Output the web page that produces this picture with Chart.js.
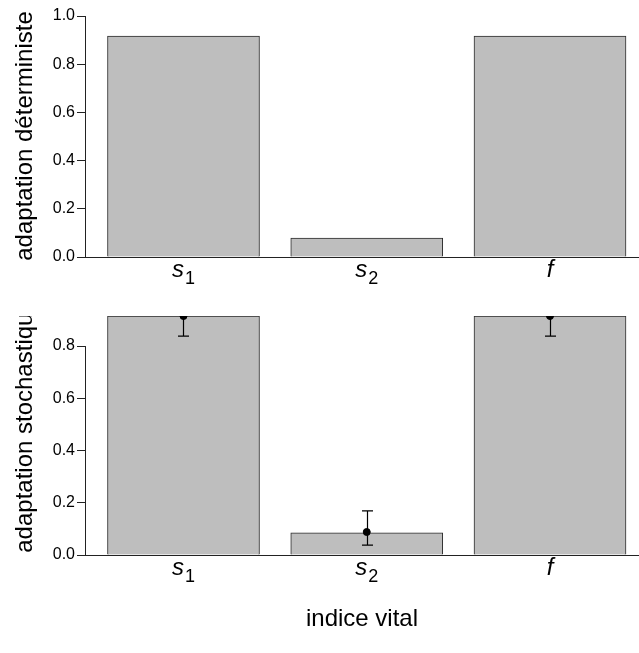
<!DOCTYPE html>
<html>
<head>
<meta charset="utf-8">
<script src="https://cdn.jsdelivr.net/npm/chart.js@4"></script>
<style>
  html, body { margin: 0; padding: 0; background: #fff; overflow: hidden; }
  body { width: 639px; height: 653px; position: relative; }
  .panel { position: absolute; left: 0; width: 639px; }
  #top { top: 0; height: 300px; }
  #bottom { top: 316px; height: 337px; }
</style>
</head>
<body>
<div class="panel" id="top"><canvas id="detChart"></canvas></div>
<div class="panel" id="bottom"><canvas id="stoChart"></canvas></div>
<script>
// vital rates: letter + subscript
const categories = ["s1", "s2", "f"];

// deterministic adaptation (top)
const detValues = [0.917, 0.079, 0.917];

// stochastic adaptation (bottom): bars, mean points, error bars
const stoValues = [0.915, 0.085, 0.915];
const stoMeans = [0.915, 0.088, 0.915];
const stoLow = [0.838, 0.038, 0.838];
const stoHigh = [0.99, 0.169, 0.99];

const detTicks = [0, 0.2, 0.4, 0.6, 0.8, 1.0];
const stoTicks = [0, 0.2, 0.4, 0.6, 0.8];

const FONT = "'Liberation Sans', Arial, sans-serif";

// R-style y axis line: only from 0 to last tick, plus titles and x labels
const decorPlugin = {
    id: "decor",
    afterDraw(chart, args, opts) {
        const ctx = chart.ctx;
        const y = chart.scales.y;
        const x = chart.scales.x;
        const area = chart.chartArea;
        const ticks = y.ticks;

        ctx.save();
        ctx.strokeStyle = "#222";
        ctx.lineWidth = 1;
        ctx.beginPath();
        ctx.moveTo(area.left + 0.5, y.getPixelForValue(ticks[0].value));
        ctx.lineTo(area.left + 0.5, y.getPixelForValue(ticks[ticks.length - 1].value));
        ctx.stroke();

        // x axis line
        ctx.beginPath();
        ctx.moveTo(area.left, area.bottom + 0.5);
        ctx.lineTo(area.right, area.bottom + 0.5);
        ctx.stroke();

        // category labels, e.g. s with subscript 1
        ctx.fillStyle = "#000";
        ctx.textBaseline = "alphabetic";
        categories.forEach((c, i) => {
            const letter = c[0];
            const sub = c.slice(1);
            const cx = x.getPixelForValue(i);
            ctx.font = "italic 24px " + FONT;
            const w1 = ctx.measureText(letter).width;
            ctx.font = "18px " + FONT;
            const w2 = sub ? ctx.measureText(sub).width + 1 : 0;
            const start = cx - (w1 + w2) / 2;
            const base = area.bottom + 20;
            ctx.font = "italic 24px " + FONT;
            ctx.textAlign = "left";
            ctx.fillText(letter, start, base);
            if (sub) {
                ctx.font = "18px " + FONT;
                ctx.fillText(sub, start + w1 + 1, base + 7);
            }
        });

        // y axis title
        ctx.save();
        ctx.translate(32, opts.titleY);
        ctx.rotate(-Math.PI / 2);
        ctx.font = "24px " + FONT;
        ctx.textAlign = "center";
        ctx.fillText(opts.title, 0, 0);
        ctx.restore();

        if (opts.xTitle) {
            ctx.font = "24px " + FONT;
            ctx.textAlign = "center";
            ctx.fillText(opts.xTitle, (area.left + area.right) / 2, area.bottom + 71);
        }
        ctx.restore();
    }
};

// error bars for the stochastic panel, drawn between bars and points
const errorBarPlugin = {
    id: "errorBars",
    afterDatasetDraw(chart, args) {
        if (args.index !== 0 || !chart.options.plugins.errorBars.low) return;
        const opts = chart.options.plugins.errorBars;
        const ctx = chart.ctx;
        const area = chart.chartArea;
        ctx.save();
        ctx.beginPath();
        ctx.rect(area.left, area.top, area.right - area.left, area.bottom - area.top);
        ctx.clip();
        ctx.strokeStyle = "#000";
        ctx.lineWidth = 1.2;
        opts.low.forEach((lo, i) => {
            const px = Math.round(chart.scales.x.getPixelForValue(i)) + 0.5;
            const yl = chart.scales.y.getPixelForValue(lo);
            const yh = chart.scales.y.getPixelForValue(opts.high[i]);
            ctx.beginPath();
            ctx.moveTo(px, yl);
            ctx.lineTo(px, yh);
            ctx.moveTo(px - 5.5, yl);
            ctx.lineTo(px + 5.5, yl);
            ctx.moveTo(px - 5.5, yh);
            ctx.lineTo(px + 5.5, yh);
            ctx.stroke();
        });
        ctx.restore();
    }
};

function makeChart(canvasId, values, tickVals, yMax, opts) {
    const datasets = [{
        type: "bar",
        data: categories.map((c, i) => ({ x: i, y: values[i] })),
        backgroundColor: "#bebebe",
        borderColor: "#2b2b2b",
        borderWidth: 1,
        barThickness: 152,
        order: 2,
        clip: 2
    }];
    if (opts.means) {
        datasets.push({
            type: "scatter",
            data: categories.map((c, i) => ({ x: i, y: opts.means[i] })),
            backgroundColor: "#000",
            borderColor: "#000",
            pointRadius: 3.5,
            order: 1
        });
    }

    return new Chart(document.getElementById(canvasId), {
        type: "bar",
        data: { datasets: datasets },
        options: {
            responsive: true,
            maintainAspectRatio: false,
            animation: false,
            layout: {
                autoPadding: false,
                padding: { top: opts.padTop, bottom: opts.padBottom, right: 0, left: 0 }
            },
            scales: {
                x: {
                    type: "linear",
                    display: false,
                    offset: false,
                    min: -0.5375,
                    max: 2.4857
                },
                y: {
                    min: 0,
                    max: yMax,
                    afterFit(scale) {
                        scale.width = 85;
                        scale.paddingTop = 0;
                        scale.paddingBottom = 0;
                    },
                    afterBuildTicks(scale) {
                        scale.ticks = tickVals.map(v => ({ value: v }));
                    },
                    ticks: {
                        color: "#000",
                        font: { family: FONT, size: 16 },
                        padding: 2,
                        callback: v => v.toFixed(1)
                    },
                    grid: {
                        drawOnChartArea: false,
                        drawTicks: true,
                        tickLength: 8,
                        color: "#222"
                    },
                    border: { display: false }
                }
            },
            plugins: {
                legend: { display: false },
                tooltip: { enabled: false },
                decor: { title: opts.title, titleY: opts.titleY, xTitle: opts.xTitle },
                errorBars: { low: opts.low, high: opts.high }
            }
        },
        plugins: [decorPlugin, errorBarPlugin]
    });
}

makeChart("detChart", detValues, detTicks, 1.0, {
    padTop: 16,
    padBottom: 43,
    title: "adaptation déterministe",
    titleY: 136
});

makeChart("stoChart", stoValues, stoTicks, 0.915, {
    padTop: 0,
    padBottom: 98,
    title: "adaptation stochastique",
    titleY: 110,
    xTitle: "indice vital",
    means: stoMeans,
    low: stoLow,
    high: stoHigh
});
</script>
</body>
</html>
